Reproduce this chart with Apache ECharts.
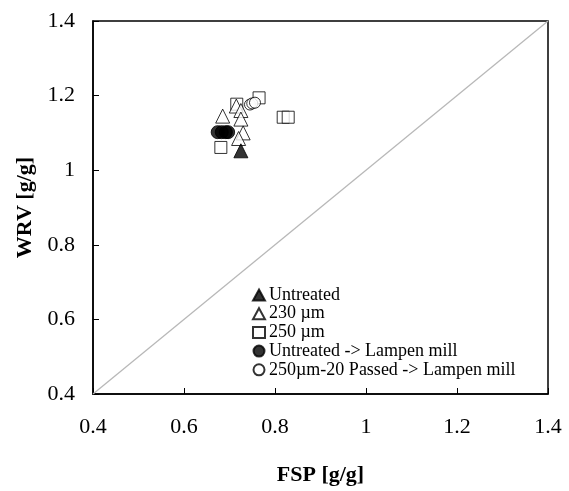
<!DOCTYPE html>
<html>
<head>
<meta charset="utf-8">
<script src="https://cdn.jsdelivr.net/npm/echarts@6/dist/echarts.min.js"></script>
<style>
  html, body { margin: 0; padding: 0; background: #fff; }
  #chart { width: 569px; height: 491px; }
</style>
</head>
<body>
<div id="chart"></div>
<script>
// FSP vs WRV for each pulp treatment, with 1:1 reference line
const untreated = [[0.725, 1.052]];
const um230 = [[0.685, 1.145], [0.715, 1.172], [0.725, 1.160], [0.725, 1.137], [0.730, 1.100], [0.720, 1.085]];
const um250 = [[0.681, 1.061], [0.716, 1.177], [0.765, 1.194], [0.818, 1.142], [0.829, 1.142]];
const untreatedLampen = [[0.674, 1.102], [0.683, 1.102], [0.692, 1.102], [0.697, 1.102]];
const passedLampen = [[0.745, 1.176], [0.750, 1.179], [0.756, 1.181]];
const diagonal = [[0.4, 0.4], [1.4, 1.4]];
const axisTicks = { min: 0.4, max: 1.4, step: 0.2 };

const serif = '"Liberation Serif", "Times New Roman", serif';

const chart = echarts.init(document.getElementById('chart'), null, { renderer: 'canvas' });

function axisCommon(name, nameGap, labelMargin) {
  return {
    type: 'value', min: axisTicks.min, max: axisTicks.max, interval: axisTicks.step,
    name: name, nameLocation: 'middle', nameGap: nameGap,
    nameTextStyle: { fontFamily: serif, fontSize: 22, fontWeight: 'bold', color: '#000' },
    axisLine: { show: true, lineStyle: { color: '#000', width: 1.5 } },
    axisTick: { show: true, inside: true, length: 6, lineStyle: { color: '#000', width: 1 } },
    axisLabel: { fontFamily: serif, fontSize: 22, color: '#000', margin: labelMargin,
      formatter: v => String(+v.toFixed(1)) },
    splitLine: { show: false }
  };
}

const hollow = { color: '#fff', borderColor: '#000', borderWidth: 1 };
const solid = { color: '#000', borderColor: '#000', borderWidth: 1 };

chart.setOption({
  animation: false,
  backgroundColor: '#fff',
  grid: { left: 93, right: 21, top: 21, bottom: 94, show: true, borderColor: '#000', borderWidth: 1.5 },
  xAxis: axisCommon('FSP [g/g]', 70, 22),
  yAxis: axisCommon('WRV [g/g]', 53, 18),
  legend: {
    orient: 'vertical', left: 247, top: 281,
    itemWidth: 12, itemHeight: 11, itemGap: 0.7,
    textStyle: { fontFamily: serif, fontSize: 18, lineHeight: 18, color: '#000', padding: [0, 0, 0, -1] },
    data: ['Untreated', '230 µm', '250 µm', 'Untreated -> Lampen mill', '250µm-20 Passed -> Lampen mill']
  },
  series: [
    {
      type: 'line', data: diagonal, symbol: 'none', silent: true,
      lineStyle: { color: '#b8b8b8', width: 1.3 }, z: 1
    },
    { name: 'Untreated', type: 'scatter', data: untreated, symbol: 'triangle', symbolSize: 14, itemStyle: solid, z: 5 },
    { name: '230 µm', type: 'scatter', data: um230, symbol: 'triangle', symbolSize: 14, itemStyle: hollow, z: 4 },
    { name: '250 µm', type: 'scatter', data: um250, symbol: 'rect', symbolSize: 12, itemStyle: hollow, z: 3 },
    { name: 'Untreated -> Lampen mill', type: 'scatter', data: untreatedLampen, symbol: 'circle', symbolSize: 13, itemStyle: solid, z: 5 },
    { name: '250µm-20 Passed -> Lampen mill', type: 'scatter', data: passedLampen, symbol: 'circle', symbolSize: 11, itemStyle: hollow, z: 4 }
  ]
});
</script>
</body>
</html>
